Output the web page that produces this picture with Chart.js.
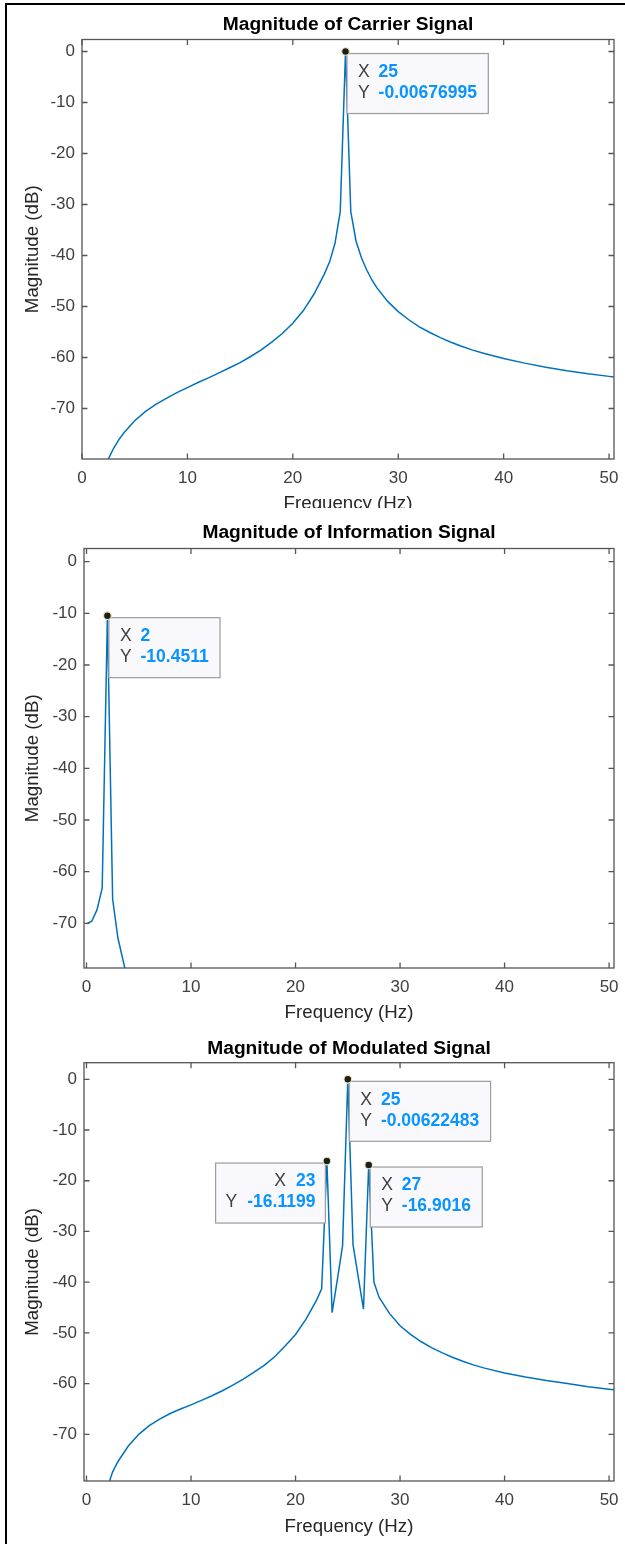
<!DOCTYPE html>
<html><head><meta charset="utf-8">
<script src="https://cdn.jsdelivr.net/npm/chart.js@4/dist/chart.umd.min.js"></script>
<style>
html,body{margin:0;padding:0;background:#fff;}
body{width:625px;height:1544px;position:relative;overflow:hidden;}
canvas{position:absolute;left:0;background:#fff;}
#frame{position:absolute;left:5px;top:3px;width:640px;height:1600px;border-left:2px solid #000;border-top:2px solid #000;pointer-events:none;z-index:10;}
</style></head><body>
<canvas id="c1" width="625" height="520" style="top:0;z-index:1"></canvas>
<canvas id="c2" width="625" height="522" style="top:508px;z-index:2"></canvas>
<canvas id="c3" width="625" height="514" style="top:1030px;z-index:3"></canvas>
<div id="frame"></div>
<script>
// ---------- data ----------
const xTicks = [0, 10, 20, 30, 40, 50];
const yTicks = [-70, -60, -50, -40, -30, -20, -10, 0];

const carrierFreq = [2, 2.5, 3, 3.5, 4, 5, 6, 7, 8, 9, 10, 11, 12, 13, 14, 15, 16, 17, 18, 19, 20, 21, 22, 22.5, 23, 23.5, 24, 24.5, 25, 25.5, 26, 26.5, 27, 27.5, 28, 29, 30, 31, 32, 33, 34, 35, 36, 37, 38, 40, 42, 44, 46, 48, 50, 50.47];
const carrierMag  = [-84, -79.9, -77.8, -76.1, -74.7, -72.4, -70.6, -69.2, -68, -66.9, -65.9, -64.9, -64, -63, -62, -61, -59.8, -58.5, -57, -55.3, -53.3, -50.8, -47.6, -45.6, -43.6, -41.2, -37.6, -31.4, -0.00676995, -31.4, -37.2, -40.4, -42.8, -44.8, -46.4, -49, -51, -52.6, -54, -55.1, -56.1, -57, -57.8, -58.5, -59.1, -60.2, -61.1, -61.9, -62.6, -63.2, -63.7, -63.8];

const infoFreq = [0, 0.5, 1, 1.5, 2, 2.5, 3, 3.5, 4];
const infoMag  = [-70.1, -69.6, -67.4, -63.2, -10.4511, -65.3, -72.8, -77.2, -81.5];

const modFreq = [2, 2.5, 3, 4, 5, 6, 7, 8, 9, 10, 11, 12, 13, 14, 15, 16, 17, 18, 19, 20, 21, 22, 22.5, 23, 23.5, 24, 24.5, 25, 25.5, 26, 26.5, 27, 27.5, 28, 29, 30, 31, 32, 33, 34, 35, 36, 37, 38, 40, 42, 44, 46, 48, 50, 50.47];
const modMag  = [-80.5, -77.4, -75.4, -72.3, -70, -68.3, -67, -65.9, -65, -64.2, -63.3, -62.4, -61.4, -60.3, -59.1, -57.8, -56.4, -54.7, -52.6, -50.3, -47.3, -43.6, -41.3, -16.1199, -46, -39.5, -32.8, -0.00622483, -32.6, -39, -45.3, -16.9016, -40, -43, -46.2, -48.6, -50.3, -51.7, -52.9, -53.9, -54.8, -55.6, -56.3, -56.9, -57.9, -58.7, -59.4, -60, -60.6, -61.1, -61.2];

const carrierTipX = [25];  const carrierTipY = [-0.00676995];
const infoTipX = [2];      const infoTipY = [-10.4511];
const modTipX = [25, 23, 27]; const modTipY = [-0.00622483, -16.1199, -16.9016];
const modTipSide = ['right', 'left', 'right'];

// ---------- styles ----------
const FONT = "'Liberation Sans', Arial, Helvetica, sans-serif";
const TICKC = '#404040';
const AXC = '#555555';
const LINEC = '#0072BD';
const TITLE_SIZE = 19.2, LABEL_SIZE = 18.7, TICK_SIZE = 17, TIP_SIZE = 17.5;

const boxPlugin = {
  id: 'matlabBox',
  afterDraw(chart) {
    const {ctx, chartArea: a, scales: {x, y}} = chart;
    ctx.save();
    ctx.strokeStyle = AXC; ctx.lineWidth = 1.3;
    ctx.strokeRect(a.left, a.top, a.right - a.left, a.bottom - a.top);
    const L = 5.5;
    ctx.beginPath();
    x.ticks.forEach(t => {
      const px = x.getPixelForValue(t.value);
      ctx.moveTo(px, a.bottom); ctx.lineTo(px, a.bottom - L);
      ctx.moveTo(px, a.top); ctx.lineTo(px, a.top + L);
    });
    y.ticks.forEach(t => {
      const py = y.getPixelForValue(t.value);
      ctx.moveTo(a.left, py); ctx.lineTo(a.left + L, py);
      ctx.moveTo(a.right, py); ctx.lineTo(a.right - L, py);
    });
    ctx.stroke();
    ctx.restore();
  }
};

const tipPlugin = {
  id: 'datatips',
  afterDraw(chart, args, opts) {
    const {ctx, scales: {x, y}} = chart;
    const labFont = TIP_SIZE + "px " + FONT, valFont = "bold " + TIP_SIZE + "px " + FONT;
    (opts.tips || []).forEach(t => {
      const px = x.getPixelForValue(t.x), py = y.getPixelForValue(t.y);
      const xs = String(t.x), ys = String(t.y);
      ctx.save();
      ctx.font = valFont;
      const vwx = ctx.measureText(xs).width, vwy = ctx.measureText(ys).width;
      ctx.font = labFont;
      const lwx = ctx.measureText('X').width, lwy = ctx.measureText('Y').width;
      const h = 60, by = py + 2;
      let bx, w;
      if (t.side === 'left') {
        const inner = Math.max(vwx + 10 + lwx, vwy + 10 + lwy);
        w = inner + 20;
        bx = px - 1.5 - w;
      } else {
        w = 11 + 20.6 + Math.max(vwx, vwy) + 11.4;
        bx = px + 1.5;
      }
      ctx.fillStyle = '#f8f8fd';
      ctx.fillRect(bx, by, w, h);
      ctx.strokeStyle = '#9c9c9c'; ctx.lineWidth = 1.2;
      ctx.strokeRect(bx, by, w, h);
      ctx.textBaseline = 'middle';
      const r1 = by + 18.5, r2 = by + 39.5;
      if (t.side === 'left') {
        const vr = bx + w - 10;
        ctx.font = valFont; ctx.fillStyle = '#0a94ff'; ctx.textAlign = 'right';
        ctx.fillText(xs, vr, r1); ctx.fillText(ys, vr, r2);
        ctx.font = labFont; ctx.fillStyle = '#404040';
        ctx.fillText('X', vr - vwx - 10, r1); ctx.fillText('Y', vr - vwy - 10, r2);
      } else {
        ctx.textAlign = 'left';
        ctx.font = labFont; ctx.fillStyle = '#404040';
        ctx.fillText('X', bx + 11, r1); ctx.fillText('Y', bx + 11, r2);
        ctx.font = valFont; ctx.fillStyle = '#0a94ff';
        ctx.fillText(xs, bx + 31.6, r1); ctx.fillText(ys, bx + 31.6, r2);
      }
      ctx.beginPath();
      ctx.arc(px, py, 3.8, 0, Math.PI * 2);
      ctx.fillStyle = '#1e1e1e'; ctx.fill();
      ctx.strokeStyle = '#efe9b4'; ctx.lineWidth = 1.1; ctx.stroke();
      ctx.restore();
    });
  }
};

// p holds absolute page coordinates; converted to canvas-local ones here
function makeChart(id, p) {
  const T = p.canvasTop, H = p.canvasH;
  const top = p.top - T, bottom = p.bottom - T, titleC = p.titleCenter - T, xlab = p.xlabelCenter - T;
  const tLH = TITLE_SIZE * 1.2, lLH = LABEL_SIZE * 1.2;
  return new Chart(document.getElementById(id), {
    type: 'line',
    data: {
      datasets: [{
        data: p.freq.map((f, i) => ({x: f, y: p.mag[i]})),
        borderColor: LINEC, borderWidth: 1.5, pointRadius: 0, tension: 0, fill: false
      }]
    },
    options: {
      responsive: false, animation: false, devicePixelRatio: 1,
      layout: {padding: {left: 0, right: 625 - p.right, top: 0, bottom: 0}},
      plugins: {
        legend: {display: false}, tooltip: {enabled: false},
        title: {
          display: true, fullSize: false, text: p.title, color: '#000',
          font: {family: FONT, size: TITLE_SIZE, weight: 'bold', lineHeight: 1.2},
          padding: {top: titleC - tLH / 2, bottom: top - titleC - tLH / 2}
        },
        datatips: {tips: p.tips}
      },
      scales: {
        x: {
          type: 'linear', position: 'bottom', min: p.xmin, max: p.xmax,
          afterBuildTicks: a => { a.ticks = xTicks.map(v => ({value: v})); },
          afterFit: s => { s.height = H - bottom; s.paddingLeft = 0; s.paddingRight = 0; },
          ticks: {padding: 9.5, color: TICKC, font: {family: FONT, size: TICK_SIZE}, maxRotation: 0, autoSkip: false},
          grid: {display: false, drawTicks: false}, border: {display: false},
          title: {display: true, text: 'Frequency (Hz)', color: '#262626',
                  font: {family: FONT, size: LABEL_SIZE, lineHeight: 1.2}, padding: {top: 0, bottom: H - xlab - lLH / 2}}
        },
        y: {
          type: 'linear', position: 'left', min: p.ymin, max: p.ymax,
          afterBuildTicks: a => { a.ticks = yTicks.map(v => ({value: v})); },
          afterFit: s => { s.width = p.left; s.paddingTop = 0; s.paddingBottom = 0; },
          ticks: {padding: 7, color: TICKC, font: {family: FONT, size: TICK_SIZE}, autoSkip: false},
          grid: {display: false, drawTicks: false}, border: {display: false},
          title: {display: true, text: 'Magnitude (dB)', color: '#262626',
                  font: {family: FONT, size: LABEL_SIZE, lineHeight: 1.2}, padding: {top: 33 - lLH / 2, bottom: 0}}
        }
      }
    },
    plugins: [boxPlugin, tipPlugin]
  });
}

makeChart('c1', {
  canvasTop: 0, canvasH: 520, top: 39.5, bottom: 459, left: 82, right: 614, titleCenter: 25, xlabelCenter: 504,
  xmin: 0, xmax: 50.47, ymin: -79.9, ymax: 2.35,
  title: 'Magnitude of Carrier Signal', freq: carrierFreq, mag: carrierMag,
  tips: carrierTipX.map((v, i) => ({x: v, y: carrierTipY[i], side: 'right'}))
});
makeChart('c2', {
  canvasTop: 508, canvasH: 522, top: 548.5, bottom: 968, left: 84, right: 614, titleCenter: 533, xlabelCenter: 1013,
  xmin: -0.24, xmax: 50.47, ymin: -78.65, ymax: 2.55,
  title: 'Magnitude of Information Signal', freq: infoFreq, mag: infoMag,
  tips: infoTipX.map((v, i) => ({x: v, y: infoTipY[i], side: 'right'}))
});
makeChart('c3', {
  canvasTop: 1030, canvasH: 514, top: 1062.7, bottom: 1481, left: 84, right: 614, titleCenter: 1048.3, xlabelCenter: 1526.7,
  xmin: -0.24, xmax: 50.47, ymin: -79.2, ymax: 3.27,
  title: 'Magnitude of Modulated Signal', freq: modFreq, mag: modMag,
  tips: modTipX.map((v, i) => ({x: v, y: modTipY[i], side: modTipSide[i]}))
});
</script>
</body></html>
